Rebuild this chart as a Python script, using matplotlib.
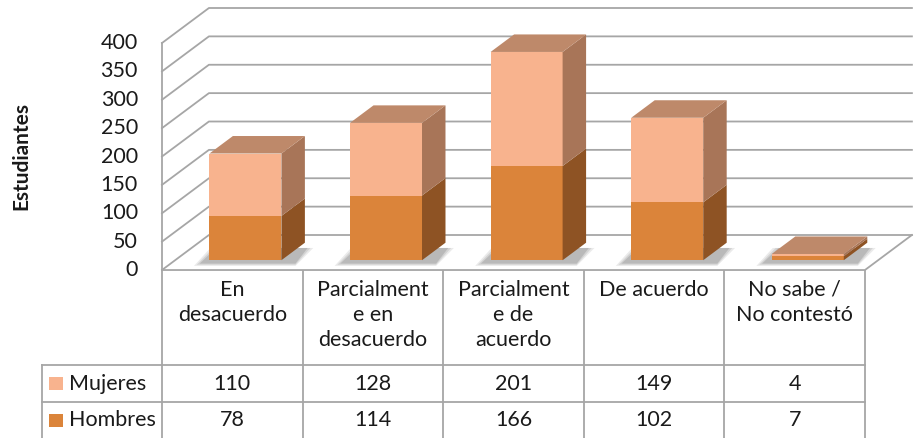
import numpy as np
import matplotlib.pyplot as plt

categorias = ["En\ndesacuerdo", "Parcialment\ne en\ndesacuerdo", "Parcialment\ne de\nacuerdo",
              "De acuerdo", "No sabe /\nNo contestó"]
mujeres = [110, 128, 201, 149, 4]
hombres = [78, 114, 166, 102, 7]
ticks_y = np.arange(0, 401, 50)

plt.rcParams['font.family'] = ['Lato', 'DejaVu Sans']

# colores (frente, lado, arriba)
c_muj = "#F8B38E"
c_muj_lado = "#A87558"
c_hom = "#DB843A"
c_hom_lado = "#8E5324"
c_top = "#BE896A"
c_grid = "#A6A6A6"
c_txt = "#1a1a1a"
fs = 15.5

# escala: 1 columna = 140.6 px, 1 estudiante = 0.5675 px
DX, DY = 0.334, 61.7      # profundidad de la pared
W = 0.512                  # ancho de barra
F0, FD = 0.28, 0.5         # inicio y fondo de la barra dentro de la profundidad

fig = plt.figure(figsize=(9.16, 4.38), dpi=100)
ax = fig.add_axes([0, 0, 1, 1])
ax.set_xlim(-1.152, 5.363)
ax.set_ylim(-296, 475.8)
ax.axis("off")

n = len(categorias)
# paredes y lineas de division
for v in ticks_y:
    ax.plot([0, DX, n + DX], [v, v + DY, v + DY], color=c_grid, lw=1.3, zorder=1)
    ax.text(-0.171, v, str(v), ha="right", va="center", fontsize=fs, color=c_txt)
ax.plot([0, 0], [0, ticks_y[-1]], color=c_grid, lw=1.3, zorder=1)
ax.plot([0, n, n + DX], [0, 0, DY], color=c_grid, lw=1.3, zorder=1)
ax.text(-1.0, 201, "Estudiantes", rotation=90, ha="center", va="center",
        fontsize=15, fontweight="bold", color=c_txt)

# barras 3D apiladas
for i in range(n):
    x0 = i + 0.5 - W / 2 + F0 * DX
    x1 = x0 + W
    base = F0 * DY
    bx, by = FD * DX, FD * DY
    # sombra
    for k, a in enumerate([0.12, 0.15, 0.2]):
        s = 0.06 - 0.02 * k
        ax.fill([x0 - s - 0.05, x1 + bx * 0.6, x1 + bx + s, x0 + bx * 0.4 - s],
                [base - 4 - 6 * s / 0.06, base - 4 - 6 * s / 0.06, base + by * 0.7, base + by * 0.7],
                color="#555555", alpha=a, lw=0, zorder=2)
    segs = [(0, hombres[i], c_hom, c_hom_lado),
            (hombres[i], hombres[i] + mujeres[i], c_muj, c_muj_lado)]
    for b, t, cf, cs in segs:
        ax.fill([x0, x1, x1, x0], [base + b, base + b, base + t, base + t], color=cf, lw=0, zorder=3)
        ax.fill([x1, x1 + bx, x1 + bx, x1], [base + b, base + b + by, base + t + by, base + t],
                color=cs, lw=0, zorder=3)
    top = base + hombres[i] + mujeres[i]
    ax.fill([x0, x1, x1 + bx, x0 + bx], [top, top, top + by, top + by], color=c_top, lw=0, zorder=3)

# tabla de datos
tab = fig.add_axes([0, 0, 1, 168 / 438])
tab.set_xlim(-1.152, 5.363)
tab.set_ylim(168, 0)
tab.axis("off")
xl = -0.853
for k in range(n + 1):
    tab.plot([k, k], [0, 168], color=c_grid, lw=1.3)
tab.plot([xl, xl], [95, 168], color=c_grid, lw=1.3)
for yy in [95, 132]:
    tab.plot([xl, n], [yy, yy], color=c_grid, lw=1.3)
for i, cat in enumerate(categorias):
    tab.text(i + 0.5, 10, cat, ha="center", va="top", fontsize=fs, color=c_txt, linespacing=1.3)
    tab.text(i + 0.5, 113.5, str(mujeres[i]), ha="center", va="center", fontsize=fs, color=c_txt)
    tab.text(i + 0.5, 150, str(hombres[i]), ha="center", va="center", fontsize=fs, color=c_txt)
for yc, lab, col in [(113.5, "Mujeres", c_muj), (150, "Hombres", c_hom)]:
    tab.add_patch(plt.Rectangle((-0.80, yc - 6.5), 0.095, 13, color=col, lw=0))
    tab.text(-0.661, yc, lab, ha="left", va="center", fontsize=fs, color=c_txt)

fig.savefig("out.png", dpi=100)
